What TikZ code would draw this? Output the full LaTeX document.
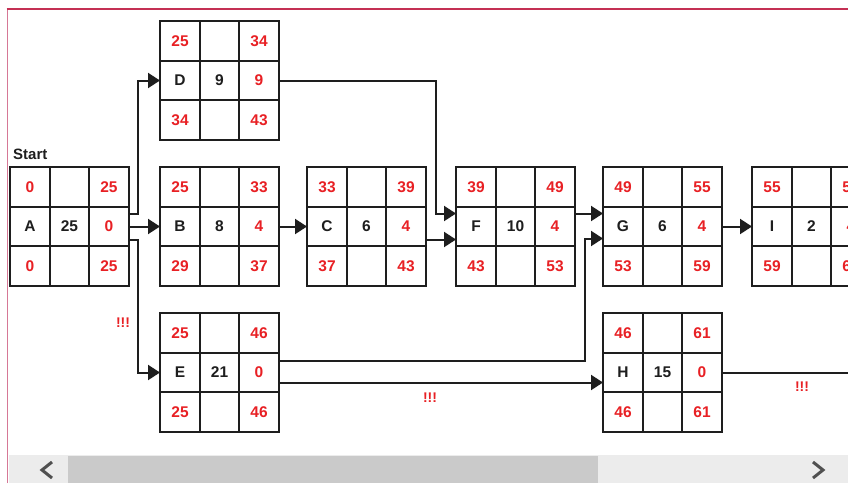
\documentclass[tikz,border=0pt]{standalone}
\usepackage{fontspec}
\setmainfont{Liberation Sans}
\usetikzlibrary{arrows.meta,calc}
\definecolor{numred}{RGB}{232,32,36}
\definecolor{ink}{RGB}{30,30,30}
\definecolor{frame}{RGB}{196,48,84}
\definecolor{framelt}{RGB}{214,120,150}
\definecolor{sbbg}{RGB}{236,236,236}
\definecolor{sbthumb}{RGB}{202,202,202}
\definecolor{chev}{RGB}{80,80,80}
\tikzset{
  actbox/.style={draw=ink, line width=2.2pt, minimum width=119pt, minimum height=119pt, inner sep=0pt, outer sep=0pt, anchor=north west},
  cellline/.style={draw=ink, line width=2pt},
  rtxt/.style={text=numred, font=\fontsize{15.5}{17}\selectfont\bfseries, inner sep=0pt},
  ktxt/.style={text=ink, font=\fontsize{15.5}{17}\selectfont\bfseries, inner sep=0pt},
  conn/.style={draw=ink, line width=2pt, -{Triangle[length=12pt,width=15pt]}},
  plain/.style={draw=ink, line width=2pt},
  warn/.style={text=numred, font=\fontsize{14}{16}\selectfont\bfseries, inner sep=0pt},
}
\newcommand\actbox[9]{%
  \node[actbox] (#1) at (#2) {};
  \draw[cellline] ($(#1.north west)+(40,0)$) -- ($(#1.south west)+(40,0)$);
  \draw[cellline] ($(#1.north west)+(79,0)$) -- ($(#1.south west)+(79,0)$);
  \draw[cellline] ($(#1.north west)+(0,40)$) -- ($(#1.north east)+(0,40)$);
  \draw[cellline] ($(#1.north west)+(0,79)$) -- ($(#1.north east)+(0,79)$);
  \node[rtxt] (#1-es) at ($(#1.center)+(-39.5,-39.5)$) {#3};
  \node[rtxt] (#1-ef) at ($(#1.center)+(39.5,-39.5)$) {#4};
  \node[ktxt] (#1-nm) at ($(#1.center)+(-39.5,0)$) {#5};
  \node[ktxt] (#1-du) at ($(#1.center)+(0,0)$) {#6};
  \node[rtxt] (#1-sl) at ($(#1.center)+(39.5,0)$) {#7};
  \node[rtxt] (#1-ls) at ($(#1.center)+(-39.5,39.5)$) {#8};
  \node[rtxt] (#1-lf) at ($(#1.center)+(39.5,39.5)$) {#9};
}
\begin{document}
\begin{tikzpicture}[x=1pt,y=-1pt]
\useasboundingbox (0,0) rectangle (848,483);
\begin{scope}
\clip (0,0) rectangle (848,483);
\fill[white] (0,0) rectangle (848,483);
% frame
\draw[framelt, line width=1.3pt] (7.5,483) -- (7.5,9);
\draw[frame, line width=2pt] (6.6,9) -- (850,9);
% boxes
\actbox{D}{160,21}{25}{34}{D}{9}{9}{34}{43}
\actbox{A}{10,167}{0}{25}{A}{25}{0}{0}{25}
\actbox{B}{160,167}{25}{33}{B}{8}{4}{29}{37}
\actbox{C}{307,167}{33}{39}{C}{6}{4}{37}{43}
\actbox{F}{456,167}{39}{49}{F}{10}{4}{43}{53}
\actbox{G}{603,167}{49}{55}{G}{6}{4}{53}{59}
\actbox{I}{752,167}{55}{57}{I}{2}{4}{59}{61}
\actbox{E}{160,313}{25}{46}{E}{21}{0}{25}{46}
\actbox{H}{603,313}{46}{61}{H}{15}{0}{46}{61}
\node[font=\fontsize{15}{17}\selectfont\bfseries, text=ink, anchor=south west, inner sep=0pt] (start) at (13,160) {Start};
% connectors
\draw[conn] (A.east) -- (B.west);
\draw[conn] ($(A.east)+(0,-13)$) -- ++(9,0) |- (D.west);
\draw[conn] ($(A.east)+(0,13)$) -- ++(9,0) |- (E.west);
\draw[conn] (B.east) -- (C.west);
\draw[conn] (D.east) -| ($(F.west)+(-20,-13)$) -- ($(F.west)+(0,-13)$);
\draw[conn] ($(C.east)+(0,13)$) -- ($(F.west)+(0,13)$);
\draw[conn] ($(F.east)+(0,-13)$) -- ($(G.west)+(0,-13)$);
\draw[conn] ($(E.east)+(0,-12)$) -| ($(G.west)+(-18,12)$) -- ($(G.west)+(0,12)$);
\draw[conn] ($(E.east)+(0,10)$) -- ($(H.west)+(0,10)$);
\draw[conn] (G.east) -- (I.west);
\coordinate (out) at ($(H.east)+(140,0)$);
\draw[plain] (H.east) -- (out);
\node[warn] (w1) at (123,323) {!!!};
\node[warn] (w2) at (430,398) {!!!};
\node[warn] (w3) at (802,387) {!!!};
% scrollbar
\fill[sbbg] (8.5,455) rectangle (848,483);
\fill[sbthumb] (68,456) rectangle (598,483);
\draw[chev, line width=3pt, line join=miter] (52,462) -- (42,470) -- (52,478);
\draw[chev, line width=3pt, line join=miter] (813,462) -- (823,470) -- (813,478);
\end{scope}
\end{tikzpicture}
\end{document}
